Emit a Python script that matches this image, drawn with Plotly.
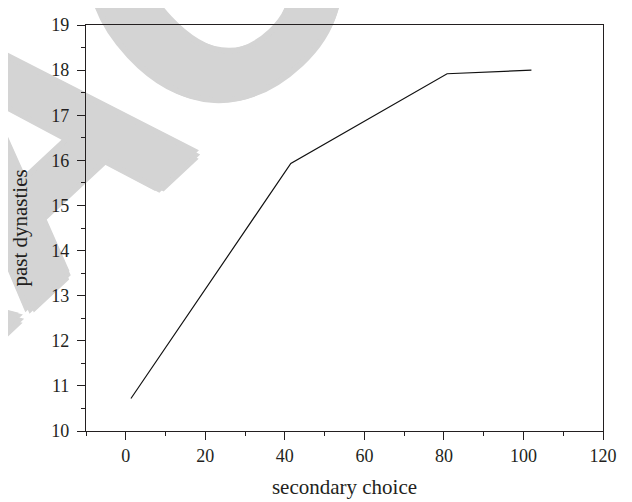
import plotly.graph_objects as go

# data
x_vals = [1.3, 41.5, 80.8, 102.0]
y_vals = [10.72, 15.93, 17.92, 18.0]
x_ticks = [0, 20, 40, 60, 80, 100, 120]
y_ticks = [10, 11, 12, 13, 14, 15, 16, 17, 18, 19]
x_title = "secondary choice"
y_title = "past dynasties"
watermark = "RETRACTED"

ink = "#231f20"
wm_color = "#d4d4d4"
font_family = "Liberation Serif, Times New Roman, serif"

# the page body has an 8px margin, so the figure sits 8px right / down
fig = go.Figure()
fig.add_trace(go.Scatter(x=x_vals, y=y_vals, mode="lines",
                         line=dict(color="#111111", width=1.2),
                         showlegend=False, hoverinfo="skip"))

d = 6
shadow = ", ".join(f"{dx}px {dy}px 0 {wm_color}" for dx, dy in
                   [(d, 0), (-d, 0), (0, d), (0, -d), (4, 4), (-4, 4), (4, -4), (-4, -4)])
cx, cy = -0.145, 0.760
fig.add_shape(type="rect", xref="paper", yref="paper",
              x0=cx - 0.1, x1=cx + 0.1, y0=cy - 0.1, y1=cy + 0.1,
              line=dict(width=0), fillcolor="rgba(0,0,0,0)", layer="below",
              label=dict(text=watermark, textangle=-43, textposition="middle center",
                         font=dict(family="Liberation Sans, Arial, sans-serif", size=336,
                                   color=wm_color, weight="bold", shadow=shadow)))

axis_common = dict(showgrid=False, zeroline=False, showline=True, mirror=True,
                   linecolor=ink, linewidth=1.3, ticks="outside", ticklen=8,
                   tickwidth=1.3, tickcolor=ink, ticklabeloverflow="allow",
                   tickfont=dict(family=font_family, size=18, color=ink))

fig.update_layout(
    width=632, height=502,
    margin=dict(l=78, r=37, t=7, b=79),
    paper_bgcolor="white", plot_bgcolor="white",
    xaxis=dict(range=[-10, 120], tickvals=x_ticks,
               minor=dict(dtick=10, tick0=0, ticks="outside", ticklen=4,
                          tickcolor=ink, tickwidth=1.3),
               title=dict(text=x_title, standoff=14,
                          font=dict(family=font_family, size=21, color=ink)),
               **axis_common),
    yaxis=dict(range=[10, 19], tickvals=y_ticks, ticklabelstandoff=4,
               minor=dict(dtick=0.5, tick0=0, ticks="outside", ticklen=4,
                          tickcolor=ink, tickwidth=1.3),
               title=dict(text=y_title, standoff=18,
                          font=dict(family=font_family, size=21, color=ink)),
               **axis_common),
)

fig.write_html("out.html")
